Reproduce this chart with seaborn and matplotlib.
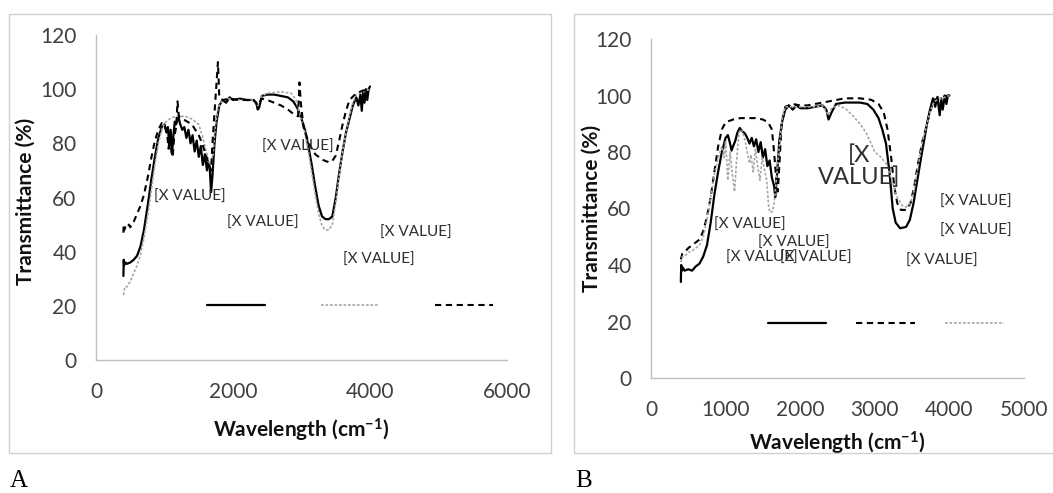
import numpy as np
import matplotlib
matplotlib.use("Agg")
import matplotlib.pyplot as plt
from matplotlib.patches import Rectangle
import seaborn as sns

# ------------------ Data: panel A ------------------
a_solid_x = [400, 405, 410, 430, 450, 500, 550, 600, 650, 700, 760, 810, 860, 910, 960, 1000,
             1030, 1050, 1070, 1090, 1110, 1130, 1150, 1170, 1200, 1230, 1260, 1290, 1320, 1350,
             1380, 1410, 1440, 1470, 1500, 1530, 1560, 1590, 1620, 1640, 1660, 1680, 1700, 1730,
             1760, 1800, 1850, 1900, 1950, 2000, 2100, 2200, 2300, 2340, 2360, 2380, 2420, 2500,
             2600, 2700, 2800, 2880, 2940, 3000, 3050, 3100, 3150, 3200, 3250, 3300, 3350, 3400,
             3450, 3500, 3550, 3600, 3650, 3700, 3750, 3800, 3830, 3860, 3880, 3900, 3920, 3940,
             3960, 3980, 4000]
a_solid_y = [31, 37, 35, 36, 35.5, 36, 37, 38.5, 42, 48, 58, 67, 75, 82, 86, 87,
             84, 86, 79, 85, 76, 83, 88, 87, 90, 87, 85, 86, 82, 85,
             80, 83, 77, 81, 75, 79, 72, 76, 70, 73, 71, 62, 68, 80,
             88, 94, 96, 95, 97, 96, 96.5, 96, 96, 95, 92.5, 93, 97.5, 98,
             98, 97.5, 97, 95.5, 93, 89, 85, 79, 72, 64, 57, 53, 52, 52,
             53, 60, 69, 77, 84, 89, 94, 97, 94, 98, 92, 99, 95, 100,
             96, 100, 101]

a_gray_x = [400, 420, 450, 500, 550, 600, 650, 700, 760, 810, 860, 910, 960, 1000, 1050, 1100,
            1200, 1300, 1400, 1450, 1500, 1550, 1600, 1650, 1680, 1710, 1740, 1780, 1850, 1950,
            2100, 2300, 2360, 2420, 2500, 2700, 2850, 2920, 2980, 3050, 3100, 3150, 3200, 3250,
            3300, 3350, 3400, 3450, 3500, 3550, 3600, 3650, 3700, 3750, 3800, 3900, 4000]
a_gray_y = [24, 27, 27, 29, 32, 35, 39, 45, 54, 63, 72, 80, 85, 87.5, 88.5, 89.5,
            90, 90, 89, 88, 87, 83, 78, 73, 72, 76, 86, 93, 96, 96.5,
            96, 96, 94, 97.5, 98.5, 99, 98.5, 96, 90, 84, 77, 69, 61, 54,
            49.5, 48, 48, 50, 58, 68, 77, 84, 90, 95, 98, 99, 100]

a_dash_x = [400, 405, 410, 430, 450, 480, 500, 550, 600, 650, 700, 760, 810, 860, 910, 960,
            1000, 1040, 1060, 1080, 1100, 1120, 1140, 1170, 1190, 1210, 1250, 1300, 1400, 1500,
            1550, 1600, 1650, 1680, 1700, 1740, 1780, 1800, 1850, 1950, 2100, 2300, 2360, 2420,
            2500, 2600, 2700, 2800, 2900, 2950, 2970, 2990, 3030, 3100, 3150, 3200, 3300, 3400,
            3450, 3500, 3550, 3600, 3650, 3700, 3800, 3900, 4000]
a_dash_y = [47, 50, 48, 49, 48.5, 50, 49, 51, 54, 57, 61, 68, 75, 81, 85, 87.5,
            87, 83, 78, 84, 77, 75, 82, 86, 95.5, 90, 89, 88.5, 87, 83,
            80, 76, 72, 70, 80, 95, 110, 97, 96, 96.5, 96, 96, 94, 96.5,
            96, 95, 94, 92.5, 90.5, 90, 102.5, 95, 86, 80.5, 78, 76, 74, 73,
            73.5, 75.5, 81, 87, 92, 96, 98.5, 99.5, 100]

a_note_x = [1368, 2431, 2949, 4669, 4124]
a_note_y = [60.3, 50.5, 78.8, 47.1, 36.9]

# ------------------ Data: panel B ------------------
b_solid_x = [400, 405, 415, 430, 450, 500, 550, 600, 650, 700, 750, 800, 850, 900, 950, 1000,
             1030, 1060, 1080, 1100, 1130, 1160, 1190, 1220, 1260, 1290, 1320, 1350, 1380, 1410,
             1440, 1470, 1500, 1530, 1560, 1590, 1620, 1650, 1665, 1690, 1720, 1760, 1800, 1850,
             1900, 1950, 2000, 2100, 2200, 2300, 2350, 2380, 2420, 2480, 2600, 2800, 2900, 2980,
             3050, 3100, 3150, 3200, 3240, 3280, 3340, 3420, 3470, 3520, 3570, 3620, 3660, 3700,
             3740, 3780, 3810, 3840, 3870, 3890, 3910, 3940, 3960, 3980, 4000]
b_solid_y = [34, 40, 38, 39, 38, 38.5, 38, 39.5, 40.5, 43, 47, 55, 65, 73, 80, 85,
             86, 83, 80.5, 82, 84, 87, 88.5, 87.5, 86.5, 85, 83, 85, 82, 84.5,
             80, 83.5, 78, 81, 75, 77, 71, 68, 64, 72, 84, 91, 95, 96.5,
             95, 96.5, 95.5, 95.5, 96, 96.5, 95, 91.5, 94, 97, 97.5, 97.5, 97, 95,
             92, 88, 83, 72, 60, 55, 53, 53.5, 56, 62, 70, 78, 84, 90,
             95, 99, 96, 99.5, 93, 99, 95, 100, 97, 100, 100]

b_dash_x = [400, 420, 450, 500, 550, 600, 650, 700, 750, 800, 850, 900, 950, 1000, 1100, 1200,
            1300, 1400, 1500, 1570, 1620, 1650, 1680, 1700, 1720, 1750, 1800, 1900, 2000, 2100,
            2200, 2300, 2400, 2500, 2600, 2800, 2950, 3050, 3120, 3170, 3220, 3260, 3300, 3350,
            3420, 3480, 3530, 3580, 3640, 3700, 3750, 3800, 3900, 4000]
b_dash_y = [42, 44, 44.5, 46, 47, 48, 49, 52, 57, 64, 73, 82, 88, 90.5, 91.5, 92,
            92, 92, 91.5, 90.5, 88, 80, 70, 66, 75, 90, 96, 97, 96.5, 96.5,
            97, 97.5, 98, 98.5, 99, 99, 98.5, 97, 94, 88, 78, 68, 62, 59.5,
            59.5, 62, 68, 76, 84, 90, 95, 98.5, 99.5, 100]

b_gray_x = [400, 420, 450, 500, 550, 600, 650, 700, 750, 800, 850, 900, 950, 980, 1000, 1030,
            1060, 1090, 1120, 1150, 1180, 1220, 1260, 1290, 1320, 1340, 1370, 1400, 1430, 1460,
            1490, 1520, 1550, 1580, 1600, 1630, 1650, 1680, 1720, 1760, 1800, 1900, 2000, 2200,
            2300, 2380, 2420, 2500, 2600, 2700, 2800, 2880, 2950, 3000, 3070, 3150, 3230, 3300,
            3370, 3420, 3480, 3530, 3580, 3640, 3700, 3750, 3800, 3900, 4000]
b_gray_y = [41, 43, 43, 44.5, 45, 46, 47, 50, 56, 64, 72, 78, 82, 78, 84, 70,
            80, 72, 66, 78, 87, 88, 84, 80, 76, 79, 73, 81, 75, 70,
            78, 74, 70, 60, 58.5, 59, 62, 70, 82, 92, 96, 96, 96, 96,
            96.5, 93, 95.5, 96.5, 95.5, 93, 90, 87, 83, 80, 78.5, 76, 70, 64,
            61, 60.5, 62, 67, 75, 84, 90, 95, 98, 99, 100]

b_note_x = [1320, 1908, 1484, 2205, 4357, 4357, 3897]
b_note_y = [54.2, 47.7, 42.7, 42.7, 62.4, 52.1, 41.5]
b_big_note = (2790, 75)

# ------------------ Style ------------------
sns.set_style("white")
plt.rcParams['font.family'] = ['Lato', 'DejaVu Sans']
plt.rcParams['mathtext.default'] = 'regular'

TICK_C = '#404040'
AXIS_C = '#bfbfbf'
NOTE_C = '#303030'

fig = plt.figure(figsize=(10.53, 4.93), dpi=100)

# panel frames
W, H = 1053, 493
fig.patches.append(Rectangle((9 / W, 1 - 453 / H), 542 / W, 439 / H, transform=fig.transFigure,
                             fill=False, edgecolor='#d0d0d0', linewidth=1.0))
fig.patches.append(Rectangle((574 / W, 1 - 453 / H), 500 / W, 439 / H, transform=fig.transFigure,
                             fill=False, edgecolor='#d0d0d0', linewidth=1.0))

axA = fig.add_axes([96 / W, 1 - 360 / H, 411 / W, 325 / H])
axB = fig.add_axes([651 / W, 1 - 378 / H, 373 / W, 339 / H])


def draw_series(ax, x, y, kind):
    if kind == 'solid':
        sns.lineplot(x=x, y=y, ax=ax, color='black', linewidth=1.6, estimator=None, sort=False)
    elif kind == 'dash':
        sns.lineplot(x=x, y=y, ax=ax, color='black', linewidth=1.5, linestyle=(0, (3, 2.2)),
                     estimator=None, sort=False)
    else:
        sns.lineplot(x=x, y=y, ax=ax, color='#a6a6a6', linewidth=1.2, linestyle=(0, (1.6, 1.1)),
                     estimator=None, sort=False)
    return ax.get_lines()[-1]


def style_axis(ax, xmax, xstep, ypad, xpad):
    ax.set_xlim(0, xmax)
    ax.set_ylim(0, 120)
    ax.set_xticks(np.arange(0, xmax + 1, xstep))
    ax.set_yticks(np.arange(0, 121, 20))
    for s in ['top', 'right']:
        ax.spines[s].set_visible(False)
    for s in ['left', 'bottom']:
        ax.spines[s].set_color(AXIS_C)
        ax.spines[s].set_linewidth(1.0)
    ax.tick_params(axis='both', length=0, labelsize=15, labelcolor=TICK_C)
    ax.tick_params(axis='y', pad=ypad)
    ax.tick_params(axis='x', pad=xpad)
    ax.set_xlabel('Wavelength (cm$^{-1}$)', fontsize=15, fontweight='bold', color='#111111')
    ax.set_ylabel('Transmittance (%)', fontsize=15, fontweight='bold', color='#111111')


# ------------------ Panel A ------------------
hA = [draw_series(axA, a_solid_x, a_solid_y, 'solid'),
      draw_series(axA, a_gray_x, a_gray_y, 'gray'),
      draw_series(axA, a_dash_x, a_dash_y, 'dash')]
style_axis(axA, 6000, 2000, 14, 16)
axA.yaxis.set_label_coords(-0.148, 0.488)
axA.xaxis.set_label_coords(0.499, -0.175)
for x, y in zip(a_note_x, a_note_y):
    axA.text(x, y, '[X VALUE]', ha='center', va='center', fontsize=11, color=NOTE_C)
axA.legend(handles=hA, labels=['', '', ''], ncol=3, loc='center', bbox_to_anchor=(0.618, 0.167),
           frameon=False, fontsize=10, handlelength=4.2, handletextpad=0, columnspacing=4.0)

# ------------------ Panel B ------------------
hB = [draw_series(axB, b_solid_x, b_solid_y, 'solid'),
      draw_series(axB, b_dash_x, b_dash_y, 'dash'),
      draw_series(axB, b_gray_x, b_gray_y, 'gray')]
style_axis(axB, 5000, 1000, 14, 16)
axB.yaxis.set_label_coords(-0.131, 0.5)
axB.xaxis.set_label_coords(0.5, -0.153)
for x, y in zip(b_note_x, b_note_y):
    axB.text(x, y, '[X VALUE]', ha='center', va='center', fontsize=11, color=NOTE_C)
axB.text(b_big_note[0], b_big_note[1], '[X\nVALUE]', ha='center', va='center', fontsize=17,
         color=NOTE_C, linespacing=1.05)
axB.legend(handles=hB, labels=['', '', ''], ncol=3, loc='center', bbox_to_anchor=(0.629, 0.159),
           frameon=False, fontsize=10, handlelength=4.2, handletextpad=0, columnspacing=2.2)

# panel letters
fig.text(10 / W, 1 - 492 / H, 'A', fontsize=18, family='Liberation Serif', color='black',
         va='bottom')
fig.text(575 / W, 1 - 492 / H, 'B', fontsize=18, family='Liberation Serif', color='black',
         va='bottom')

fig.savefig('out.png', dpi=100)
